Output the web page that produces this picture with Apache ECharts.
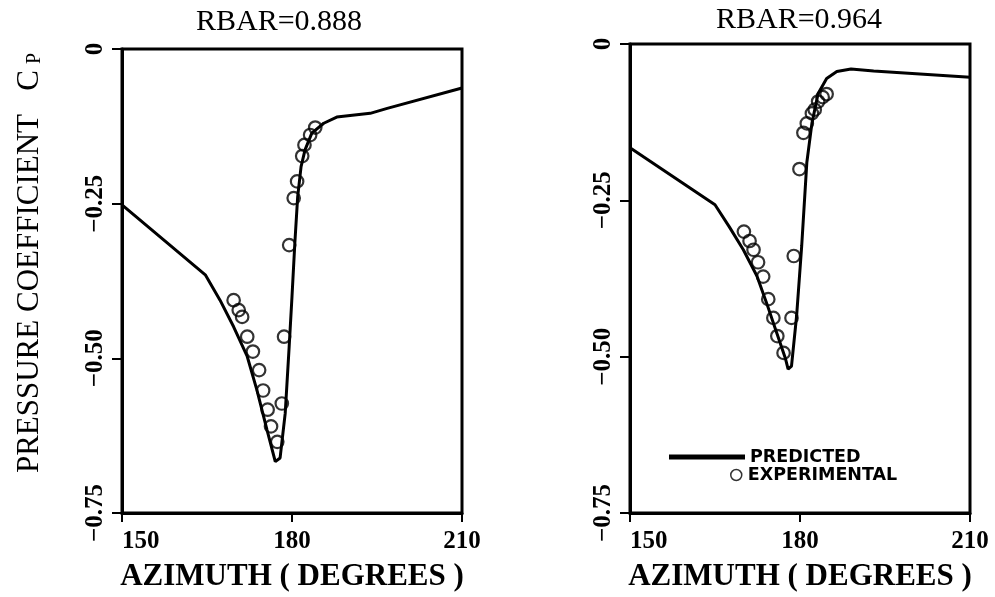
<!DOCTYPE html>
<html>
<head>
<meta charset="utf-8">
<script src="https://cdn.jsdelivr.net/npm/echarts@6/dist/echarts.min.js"></script>
<style>
  html, body { margin: 0; padding: 0; background: #fff; }
  #chart { width: 995px; height: 597px; }
</style>
</head>
<body>
<div id="chart"></div>
<script>
// Panel titles
const panelTitles = ['RBAR=0.888', 'RBAR=0.964'];

// Axis ticks
const azimuthTicks = [150, 180, 210];
const cpTicks = [-0.75, -0.5, -0.25, 0];

// RBAR = 0.888 : predicted curve
const predAzLeft = [150, 164.7, 167.3, 169.7, 172.1, 173.8, 175.6, 177.05, 177.9, 178.8, 179.5, 180.0, 180.5, 181.0, 181.6, 182.3, 183.5, 185.6, 187.9, 193.8, 196.8, 210];
const predCpLeft = [-0.252, -0.365, -0.406, -0.449, -0.497, -0.551, -0.616, -0.667, -0.661, -0.589, -0.481, -0.400, -0.314, -0.239, -0.190, -0.163, -0.136, -0.120, -0.110, -0.104, -0.096, -0.063];

// RBAR = 0.888 : experimental points
const expAzLeft = [169.7, 170.6, 171.2, 172.1, 173.1, 174.2, 174.9, 175.7, 176.3, 177.4, 178.2, 178.6, 179.5, 180.3, 180.9, 181.8, 182.2, 183.2, 184.1];
const expCpLeft = [-0.406, -0.422, -0.433, -0.465, -0.489, -0.519, -0.552, -0.583, -0.610, -0.635, -0.573, -0.465, -0.317, -0.241, -0.214, -0.173, -0.155, -0.139, -0.127];

// RBAR = 0.964 : predicted curve
const predAzRight = [150, 165.0, 167.5, 170.0, 172.4, 174.1, 175.9, 177.4, 177.9, 178.5, 179.4, 180.3, 181.2, 182.1, 183.2, 184.7, 186.5, 189.0, 193.0, 210];
const predCpRight = [-0.166, -0.257, -0.292, -0.329, -0.371, -0.414, -0.462, -0.502, -0.520, -0.515, -0.435, -0.323, -0.190, -0.127, -0.079, -0.055, -0.044, -0.040, -0.043, -0.053];

// RBAR = 0.964 : experimental points
const expAzRight = [170.1, 171.1, 171.8, 172.6, 173.5, 174.4, 175.3, 176.0, 177.1, 178.5, 178.9, 179.9, 180.6, 181.2, 182.1, 182.6, 183.2, 184.0, 184.7];
const expCpRight = [-0.300, -0.315, -0.329, -0.349, -0.372, -0.408, -0.438, -0.467, -0.494, -0.438, -0.339, -0.200, -0.142, -0.127, -0.111, -0.105, -0.092, -0.085, -0.080];

const zip = (xs, ys) => xs.map((x, i) => [x, ys[i]]);

const SERIF = '"Liberation Serif", "DejaVu Serif", serif';
const SANS = '"DejaVu Sans", "Liberation Sans", sans-serif';

const fmtCp = v => (Math.abs(v) < 1e-9 ? '0' : '\u2212' + Math.abs(v).toFixed(2));

function xAxisFor(gridIndex) {
  return {
    type: 'value', gridIndex,
    min: azimuthTicks[0], max: azimuthTicks[azimuthTicks.length - 1], interval: 30,
    name: 'AZIMUTH ( DEGREES )', nameLocation: 'middle', nameGap: 48,
    nameTextStyle: { fontFamily: SERIF, fontWeight: 'bold', fontSize: 31, color: '#000' },
    axisLine: { show: true, onZero: false, lineStyle: { color: '#000', width: 3 } },
    axisTick: { show: true, inside: false, length: 9, lineStyle: { color: '#000', width: 2 } },
    axisLabel: { fontFamily: SERIF, fontWeight: 'bold', fontSize: 25, color: '#000', margin: 16, alignMinLabel: 'left' },
    splitLine: { show: false }
  };
}

function yAxisFor(gridIndex, withName) {
  const ax = {
    type: 'value', gridIndex,
    min: cpTicks[0], max: cpTicks[cpTicks.length - 1], interval: 0.25,
    axisLine: { show: true, onZero: false, lineStyle: { color: '#000', width: 3 } },
    axisTick: { show: true, inside: false, length: 10, lineStyle: { color: '#000', width: 2 } },
    axisLabel: { fontFamily: SERIF, fontWeight: 'bold', fontSize: 25, color: '#000', rotate: 90, margin: 14, formatter: fmtCp },
    splitLine: { show: false }
  };
  if (withName) {
    ax.name = 'PRESSURE COEFFICIENT   C{sub|P}';
    ax.nameLocation = 'middle';
    ax.nameRotate = 90;
    ax.nameGap = 77;
    ax.nameTextStyle = {
      fontFamily: SERIF, fontSize: 31, color: '#000',
      padding: [0, 0, 0, 36],
      rich: { sub: { fontFamily: SERIF, fontSize: 20, color: '#000', verticalAlign: 'bottom', padding: [10, 0, 0, 6] } }
    };
  }
  return ax;
}

function lineSeries(idx, data) {
  return {
    name: 'PREDICTED', type: 'line', xAxisIndex: idx, yAxisIndex: idx,
    data, symbol: 'none', smooth: false,
    lineStyle: { color: '#000', width: 3 }, itemStyle: { color: '#000' },
    z: 3, silent: true
  };
}

function scatterSeries(idx, data) {
  return {
    name: 'EXPERIMENTAL', type: 'scatter', xAxisIndex: idx, yAxisIndex: idx,
    data, symbol: 'circle', symbolSize: 12.5,
    itemStyle: { color: 'rgba(255,255,255,0)', borderColor: '#000', borderWidth: 2.2 },
    z: 4, silent: true
  };
}

const chart = echarts.init(document.getElementById('chart'), null, { renderer: 'canvas' });

chart.setOption({
  backgroundColor: '#fff',
  animation: false,
  grid: [
    { left: 122, right: 533, top: 49, bottom: 84, show: true, borderColor: '#000', borderWidth: 3, backgroundColor: 'transparent' },
    { left: 630, right: 25, top: 44, bottom: 83, show: true, borderColor: '#000', borderWidth: 3, backgroundColor: 'transparent' }
  ],
  xAxis: [xAxisFor(0), xAxisFor(1)],
  yAxis: [yAxisFor(0, true), yAxisFor(1, false)],
  legend: [
    {
      data: ['PREDICTED'], left: 664, top: 443, orient: 'vertical',
      icon: 'rect', itemWidth: 76, itemHeight: 5,
      itemStyle: { color: '#000' },
      textStyle: { fontFamily: SANS, fontWeight: 'bold', fontSize: 17.5, color: '#000' },
      selectedMode: false
    },
    {
      data: ['EXPERIMENTAL'], left: 725, top: 461, orient: 'vertical',
      icon: 'circle', itemWidth: 11, itemHeight: 11,
      itemStyle: { color: '#fff', borderColor: '#000', borderWidth: 1.5 },
      textStyle: { fontFamily: SANS, fontWeight: 'bold', fontSize: 17.5, color: '#000', padding: [0, 0, 0, 1] },
      selectedMode: false
    }
  ],
  graphic: [
    { type: 'text', x: 279, y: 22, style: { text: panelTitles[0], font: '30px ' + SERIF, fill: '#000', textAlign: 'center', textVerticalAlign: 'middle' } },
    { type: 'text', x: 799, y: 20, style: { text: panelTitles[1], font: '30px ' + SERIF, fill: '#000', textAlign: 'center', textVerticalAlign: 'middle' } }
  ],
  series: [
    lineSeries(0, zip(predAzLeft, predCpLeft)),
    scatterSeries(0, zip(expAzLeft, expCpLeft)),
    lineSeries(1, zip(predAzRight, predCpRight)),
    scatterSeries(1, zip(expAzRight, expCpRight))
  ]
});
</script>
</body>
</html>
